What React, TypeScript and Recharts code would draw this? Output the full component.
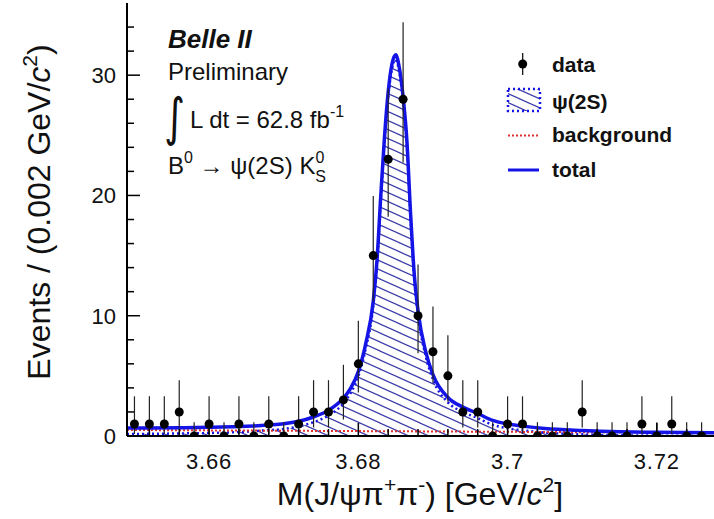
import {
  ComposedChart,
  Area,
  Line,
  Scatter,
  ErrorBar,
  XAxis,
  YAxis,
} from 'recharts'

// ─── Data ────────────────────────────────────────────────────────────────────

const X_DOMAIN: [number, number] = [3.649, 3.729]
const Y_DOMAIN: [number, number] = [0, 36]

const X_MAJOR = [3.66, 3.68, 3.7, 3.72]
const X_MINOR = [
  3.652, 3.656, 3.664, 3.668, 3.672, 3.676, 3.684, 3.688,
  3.692, 3.696, 3.704, 3.708, 3.712, 3.716, 3.724, 3.728,
]
const Y_MAJOR = [0, 10, 20, 30]
const Y_MINOR = [2, 4, 6, 8, 12, 14, 16, 18, 22, 24, 26, 28, 32, 34]

// bin centres, 0.002 GeV bins
const BIN_CENTERS = [
  3.65, 3.652, 3.654, 3.656, 3.658, 3.66, 3.662, 3.664, 3.666, 3.668,
  3.67, 3.672, 3.674, 3.676, 3.678, 3.68, 3.682, 3.684, 3.686, 3.688,
  3.69, 3.692, 3.694, 3.696, 3.698, 3.7, 3.702, 3.704, 3.706, 3.708,
  3.71, 3.712, 3.714, 3.716, 3.718, 3.72, 3.722, 3.724, 3.726,
]
const COUNTS = [
  1, 1, 1, 2, 0, 1, 0, 1, 0, 1,
  0, 1, 2, 2, 3, 6, 15, 23, 28, 10,
  7, 5, 2, 2, 0, 1, 1, 0, 0, 0,
  2, 0, 0, 0, 1, 0, 1, 0, 0,
]
// asymmetric (Poisson) error bars [down, up] as read per count
const POISSON_ERR: Record<number, [number, number]> = {
  0: [0, 1.15],
  1: [0.83, 2.3],
  2: [1.29, 2.64],
  3: [1.63, 2.92],
  5: [2.16, 3.38],
  6: [2.38, 3.58],
  7: [2.58, 3.77],
  10: [3.11, 4.26],
  15: [3.82, 4.96],
  23: [4.77, 5.89],
  28: [5.27, 6.4],
}

// fit curves
const CURVE_X = [
  3.649, 3.652, 3.656, 3.66, 3.664, 3.666, 3.668, 3.67, 3.672, 3.674,
  3.676, 3.678, 3.679, 3.68, 3.681, 3.682, 3.6825, 3.683, 3.6835, 3.684,
  3.6845, 3.685, 3.6855, 3.686, 3.6865, 3.687, 3.6875, 3.688, 3.689, 3.69,
  3.692, 3.694, 3.696, 3.698, 3.7, 3.702, 3.705, 3.71, 3.715, 3.72, 3.729,
]
const TOTAL_Y = [
  0.66, 0.67, 0.69, 0.72, 0.78, 0.84, 0.92, 1.02, 1.22, 1.58,
  2.13, 3.14, 4.0, 5.35, 7.7, 11.2, 14.6, 19.9, 24.8, 28.6,
  30.9, 31.7, 30.6, 28.2, 24.6, 18.5, 13.4, 10.4, 7.07, 5.1,
  3.2, 2.4, 1.87, 1.3, 1.0, 0.82, 0.62, 0.46, 0.36, 0.31, 0.26,
]
const SIGNAL_Y = [
  0.16, 0.18, 0.21, 0.25, 0.33, 0.4, 0.49, 0.58, 0.8, 1.15,
  1.71, 2.72, 3.6, 4.95, 7.3, 10.8, 14.2, 19.5, 24.4, 28.2,
  30.5, 31.3, 30.2, 27.8, 24.2, 18.1, 13.0, 10.0, 6.7, 4.7,
  2.8, 2.0, 1.49, 0.93, 0.64, 0.47, 0.28, 0.14, 0.06, 0.03, 0.0,
]
const BKG_X = [3.649, 3.689, 3.729]
const BKG_Y = [0.5, 0.38, 0.26]

const points = BIN_CENTERS.map((x, i) => ({
  x,
  y: COUNTS[i],
  err: POISSON_ERR[COUNTS[i]],
}))
const totalCurve = CURVE_X.map((x, i) => ({ x, y: TOTAL_Y[i] }))
const signalCurve = CURVE_X.map((x, i) => ({ x, y: SIGNAL_Y[i] }))
const bkgCurve = BKG_X.map((x, i) => ({ x, y: BKG_Y[i] }))

// ─── Style ───────────────────────────────────────────────────────────────────

const FONT = '"Liberation Sans", Arial, Helvetica, sans-serif'
const BLUE = '#1414e6'
const HATCH = '#3a3aa8'
const RED = '#e03030'
const INK = '#111'

const YTick = (props: any) => {
  const { x, y, payload } = props
  const major = Y_MAJOR.includes(payload.value)
  return (
    <g>
      <line x1={x} x2={x + (major ? 13 : 7)} y1={y} y2={y} stroke="#000" strokeWidth={1.5} />
      {major && (
        <text x={x - 11} y={y} dy="0.36em" textAnchor="end" fontSize={22} fontFamily={FONT} fill={INK}>
          {payload.value}
        </text>
      )}
    </g>
  )
}

const XTick = (props: any) => {
  const { x, y, payload } = props
  const major = X_MAJOR.includes(payload.value)
  return (
    <g>
      <line x1={x} x2={x} y1={y} y2={y - (major ? 13 : 7)} stroke="#000" strokeWidth={1.5} />
      {major && (
        <text x={x} y={y + 33} textAnchor="middle" fontSize={22} letterSpacing={0.8} fontFamily={FONT} fill={INK}>
          {String(payload.value)}
        </text>
      )}
    </g>
  )
}

const Dot = (props: any) => <circle cx={props.cx} cy={props.cy} r={4.5} fill="#000" />

function HatchPattern({ id }: { id: string }) {
  return (
    <pattern id={id} patternUnits="userSpaceOnUse" width={20} height={9}>
      <line x1={-20} y1={-9} x2={40} y2={18} stroke={HATCH} strokeWidth={1.2} />
      <line x1={-20} y1={0} x2={20} y2={18} stroke={HATCH} strokeWidth={1.2} />
      <line x1={0} y1={-9} x2={40} y2={9} stroke={HATCH} strokeWidth={1.2} />
    </pattern>
  )
}

function Labels() {
  return (
    <svg
      width={714}
      height={519}
      style={{ position: 'absolute', left: 0, top: 0, pointerEvents: 'none' }}
      fontFamily={FONT}
      fill={INK}
    >
      <defs>
        <HatchPattern id="legendHatch" />
      </defs>

      {/* axis titles */}
      <text transform="translate(50,212) rotate(-90)" textAnchor="middle" fontSize={32}>
        Events / (0.002 GeV/<tspan fontStyle="italic">c</tspan>
        <tspan dy={-13} fontSize={21}>2</tspan>
        <tspan dy={13}>)</tspan>
      </text>
      <text x={420} y={505} textAnchor="middle" fontSize={32}>
        M(J/ψπ<tspan dy={-13} fontSize={21}>+</tspan>
        <tspan dy={13}>π</tspan>
        <tspan dy={-13} fontSize={21}>-</tspan>
        <tspan dy={13}>) [GeV/</tspan>
        <tspan fontStyle="italic">c</tspan>
        <tspan dy={-13} fontSize={21}>2</tspan>
        <tspan dy={13}>]</tspan>
      </text>

      {/* annotations */}
      <text x={168} y={48} fontSize={26} fontWeight="bold" fontStyle="italic">Belle II</text>
      <text x={168} y={80} fontSize={24}>Preliminary</text>
      <text
        x={0}
        y={0}
        fontSize={40}
        fontFamily="DejaVu Sans"
        transform="translate(164,135) scale(1,1.3)"
      >
        ∫
      </text>
      <text x={190} y={128} fontSize={24}>
        L dt = 62.8 fb<tspan dy={-11} fontSize={16}>-1</tspan>
      </text>
      <text x={168} y={174} fontSize={24}>
        B<tspan dy={-11} fontSize={16}>0</tspan>
        <tspan dy={11}> → ψ(2S) K</tspan>
        <tspan dy={-11} fontSize={16}>0</tspan>
        <tspan dx={-9} dy={19} fontSize={16}>S</tspan>
      </text>

      {/* legend */}
      <line x1={522.7} x2={522.7} y1={53} y2={75} stroke="#000" strokeWidth={1.2} />
      <circle cx={522.7} cy={64} r={4.5} fill="#000" />
      <text x={552} y={72} fontSize={21} fontWeight="bold">data</text>

      <rect x={508} y={89} width={32} height={22} fill="url(#legendHatch)" stroke={BLUE} strokeWidth={2.5} strokeDasharray="2 3" />
      <text x={552} y={109} fontSize={21} fontWeight="bold">ψ(2S)</text>

      <line x1={508} x2={539} y1={135.5} y2={135.5} stroke={RED} strokeWidth={2} strokeDasharray="2 2" />
      <text x={552} y={142} fontSize={21} fontWeight="bold">background</text>

      <line x1={508} x2={539} y1={170} y2={170} stroke={BLUE} strokeWidth={3} />
      <text x={552} y={177} fontSize={21} fontWeight="bold">total</text>
    </svg>
  )
}

export default function App() {
  return (
    <div
      style={{
        position: 'absolute',
        left: 0,
        top: 0,
        width: 714,
        height: 519,
        overflow: 'hidden',
        background: '#fff',
      }}
    >
      <ComposedChart width={740} height={519} margin={{ top: 3, right: 16, bottom: 0, left: 0 }}>
        <defs>
          <HatchPattern id="psiHatch" />
        </defs>
        <XAxis
          dataKey="x"
          type="number"
          domain={X_DOMAIN}
          allowDataOverflow
          ticks={[...X_MINOR, ...X_MAJOR].sort((a, b) => a - b)}
          interval={0}
          tickSize={0}
          tickMargin={0}
          tickLine={false}
          tick={<XTick />}
          height={83}
          axisLine={{ stroke: '#000', strokeWidth: 2 }}
        />
        <XAxis
          xAxisId="top"
          orientation="top"
          dataKey="x"
          type="number"
          domain={X_DOMAIN}
          allowDataOverflow
          height={0}
          tick={false}
          tickLine={false}
          axisLine={{ stroke: '#000', strokeWidth: 2 }}
        />
        <YAxis
          type="number"
          domain={Y_DOMAIN}
          allowDataOverflow
          ticks={[...Y_MINOR, ...Y_MAJOR].sort((a, b) => a - b)}
          interval={0}
          tickSize={0}
          tickMargin={0}
          tickLine={false}
          tick={<YTick />}
          width={127}
          axisLine={{ stroke: '#000', strokeWidth: 2 }}
        />
        <Area
          data={signalCurve}
          dataKey="y"
          type="monotone"
          baseValue={0}
          stroke={BLUE}
          strokeWidth={2.5}
          strokeDasharray="2 3"
          fill="url(#psiHatch)"
          fillOpacity={1}
          dot={false}
          activeDot={false}
          isAnimationActive={false}
        />
        <Line
          data={bkgCurve}
          dataKey="y"
          type="linear"
          stroke={RED}
          strokeWidth={2}
          strokeDasharray="2 2"
          dot={false}
          activeDot={false}
          isAnimationActive={false}
        />
        <Line
          data={totalCurve}
          dataKey="y"
          type="monotone"
          stroke={BLUE}
          strokeWidth={3.5}
          dot={false}
          activeDot={false}
          isAnimationActive={false}
        />
        <Scatter data={points} dataKey="y" shape={<Dot />} isAnimationActive={false}>
          <ErrorBar dataKey="err" direction="y" width={0} stroke="#222" strokeWidth={1.2} />
        </Scatter>
      </ComposedChart>
      <Labels />
    </div>
  )
}
